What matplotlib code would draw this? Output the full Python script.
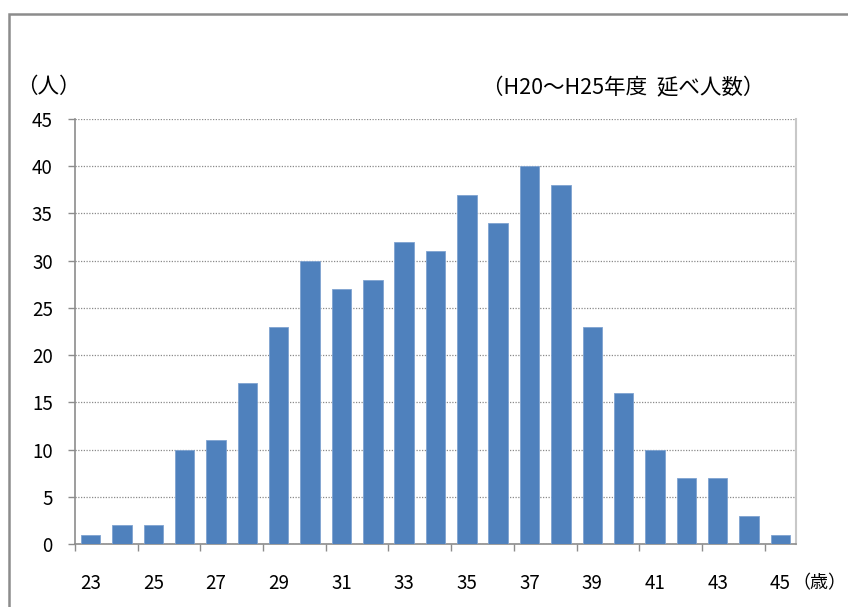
import matplotlib
matplotlib.use("Agg")
import matplotlib.pyplot as plt
from matplotlib.patches import Rectangle
import numpy as np

plt.rcParams['font.family'] = ['Noto Sans CJK JP', 'DejaVu Sans']

ages = list(range(23, 46))
counts = [1, 2, 2, 10, 11, 17, 23, 30, 27, 28, 32, 31, 37, 34, 40, 38, 23, 16, 10, 7, 7, 3, 1]
y_ticks = [0, 5, 10, 15, 20, 25, 30, 35, 40, 45]
x_labels = [str(a) for a in ages[::2]]

fig = plt.figure(figsize=(8.48, 6.07), dpi=100)
# outer frame
fig.add_artist(Rectangle((8.5 / 848, -0.01), 2, 1 - 13.5 / 607 + 0.01, transform=fig.transFigure,
                         fill=False, edgecolor='#8c8c8c', linewidth=1.8, clip_on=False))

ax = fig.add_axes([75 / 848, 1 - 544 / 607, (796 - 75) / 848, (544 - 119) / 607])
x = np.arange(len(ages))
ax.bar(x, counts, width=0.62, color='#4F81BD', edgecolor='#7fa3d1', linewidth=0.6, zorder=3)
ax.set_xlim(-0.5, len(ages) - 0.5)
ax.set_ylim(0, 45)
ax.set_yticks(y_ticks)
ax.set_yticklabels([str(v) for v in y_ticks], fontsize=13.5)
ax.yaxis.grid(True, linestyle=(0, (1, 1.2)), color='#8a8a8a', linewidth=0.9, zorder=1)

# x major ticks at pair boundaries, labels via minor ticks
ax.set_xticks(np.arange(-0.5, len(ages), 2))
ax.set_xticklabels([])
ax.set_xticks(x[::2], minor=True)
ax.set_xticklabels(x_labels, minor=True, fontsize=13.5)
ax.tick_params(axis='x', which='major', length=5, width=1, color='#8c8c8c', direction='out')
ax.tick_params(axis='x', which='minor', length=0, pad=21)
ax.tick_params(axis='y', length=5, width=1, color='#8c8c8c', pad=11)

for s in ['left', 'bottom']:
    ax.spines[s].set_color('#8c8c8c')
    ax.spines[s].set_linewidth(1.2)
ax.spines['top'].set_visible(False)
ax.spines['right'].set_color('#c8c8c8')
ax.spines['right'].set_linewidth(1.5)

fig.text(16 / 848, 1 - 87 / 607, '（人）', fontsize=15.5, va='center', ha='left')
fig.text(482 / 848, 1 - 88 / 607, '（H20〜H25年度  延べ人数）', fontsize=15.5, va='center', ha='left')
fig.text(846 / 848, 1 - 583 / 607, '（歳）', fontsize=13, va='center', ha='right')

fig.savefig('out.png', dpi=100, facecolor='white')
